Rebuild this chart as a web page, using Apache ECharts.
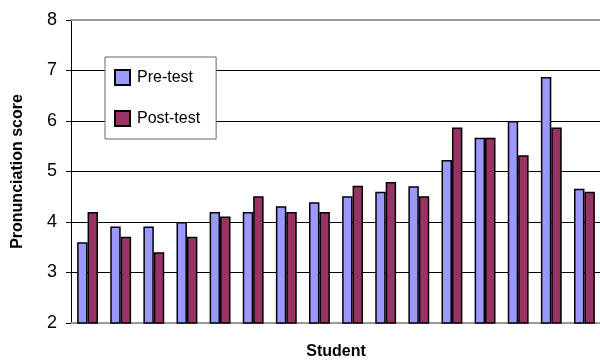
<!DOCTYPE html>
<html><head><meta charset="utf-8">
<script src="https://cdn.jsdelivr.net/npm/echarts@6/dist/echarts.min.js"></script>
<style>html,body{margin:0;padding:0;background:#fff}#c{width:600px;height:360px}</style>
</head><body><div id="c"></div>
<script>
const students = ['1','2','3','4','5','6','7','8','9','10','11','12','13','14','15','16'];
const preTest  = [3.6,3.91,3.91,4.0,4.2,4.2,4.31,4.39,4.51,4.6,4.71,5.23,5.67,6.0,6.87,4.66];
const postTest = [4.2,3.71,3.4,3.71,4.11,4.51,4.2,4.2,4.72,4.79,4.51,5.87,5.67,5.32,5.87,4.6];
const yTicks = [2,3,4,5,6,7,8];
const font = 'Liberation Sans, Arial, sans-serif';
const chart = echarts.init(document.getElementById('c'), null, {renderer:'canvas'});
chart.setOption({
  animation:false,
  grid:{left:71,right:-1,top:20,bottom:37,containLabel:false,outerBoundsMode:'none'},
  legend:{
    orient:'vertical', left:105, top:57,
    padding:[12,16,12,9], itemGap:24,
    backgroundColor:'#fff', borderColor:'#666', borderWidth:1,
    itemWidth:15, itemHeight:15,
    textStyle:{fontFamily:font,fontSize:16,color:'#000',padding:[0,0,0,2]},
    data:[{name:'Pre-test',icon:'rect'},{name:'Post-test',icon:'rect'}]
  },
  xAxis:[{
    type:'category', data:students,
    name:'Student', nameLocation:'middle', nameGap:21,
    nameTextStyle:{fontFamily:font,fontSize:16,fontWeight:'bold',color:'#000'},
    axisLine:{lineStyle:{color:'#999',width:2}},
    axisTick:{show:false}, axisLabel:{show:false}
  },{
    type:'category', data:students, position:'top',
    axisLine:{lineStyle:{color:'#999',width:2}},
    axisTick:{show:false}, axisLabel:{show:false}
  }],
  yAxis:{
    type:'value', min:yTicks[0], max:yTicks[yTicks.length-1], interval:1,
    name:'Pronunciation score', nameLocation:'middle', nameGap:45, nameRotate:90,
    nameTextStyle:{fontFamily:font,fontSize:16,fontWeight:'bold',color:'#000'},
    axisLine:{show:true,lineStyle:{color:'#000',width:1}},
    axisTick:{show:true,length:5,lineStyle:{color:'#000'}},
    axisLabel:{fontFamily:font,fontSize:18,color:'#000',margin:14},
    splitLine:{lineStyle:{color:['#999','#000','#000','#000','#000','#000','#999'],width:1}}
  },
  series:[
    {name:'Pre-test',type:'bar',data:preTest,barGap:'0%',barCategoryGap:'37%',
     itemStyle:{color:'#9999FF',borderColor:'#000',borderWidth:1.5}},
    {name:'Post-test',type:'bar',data:postTest,
     itemStyle:{color:'#993366',borderColor:'#000',borderWidth:1.5}}
  ]
});
</script></body></html>
